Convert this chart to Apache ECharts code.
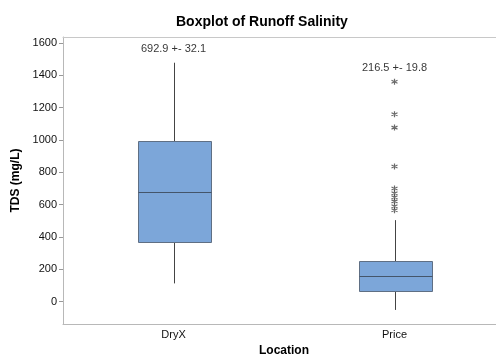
<!DOCTYPE html>
<html><head><meta charset="utf-8">
<script src="https://cdn.jsdelivr.net/npm/echarts@6/dist/echarts.min.js"></script>
<style>html,body{margin:0;padding:0;background:#fff}#c{width:496px;height:360px}</style>
</head><body><div id="c"></div>
<script>
const categories = ['DryX', 'Price'];
// [whiskerLow, Q1, median, Q3, whiskerHigh]
const boxStats = [
  [113, 366, 678, 991, 1477],
  [-51, 64, 160, 249, 504]
];
const outliersPrice = [1359, 1158, 1076, 835, 700, 670, 645, 620, 590, 565];
const meanLabels = ['692.9 +- 32.1', '216.5 +- 19.8'];
const yTicks = [0, 200, 400, 600, 800, 1000, 1200, 1400, 1600];

const outlierData = outliersPrice.map(v => [1, v]);
const labelData = categories.map((c, i) => {
  const maxOut = i === 1 ? Math.max(...outliersPrice) : boxStats[i][4];
  return { value: [i, Math.max(maxOut, boxStats[i][4])], label: { formatter: meanLabels[i] } };
});

const chart = echarts.init(document.getElementById('c'), null, { renderer: 'canvas' });
const font = 'Liberation Sans, Arial, sans-serif';
chart.setOption({
  animation: false,
  title: {
    text: 'Boxplot of Runoff Salinity', left: 171, top: 10,
    textStyle: { fontFamily: font, fontSize: 14, fontWeight: 'bold', color: '#000' }
  },
  grid: { left: 63, top: 37, width: 442, height: 287, show: false,
          outerBoundsMode: 'none', containLabel: false },
  xAxis: [{
    type: 'category', data: categories, boundaryGap: true,
    name: 'Location', nameLocation: 'middle', nameGap: 21,
    nameTextStyle: { fontFamily: font, fontSize: 12, fontWeight: 'bold', color: '#000' },
    axisLine: { onZero: false, lineStyle: { color: '#b8b8b8' } },
    axisTick: { alignWithLabel: true, length: 4, lineStyle: { color: '#999' } },
    axisLabel: { fontFamily: font, fontSize: 11, color: '#111', margin: 5 },
    splitLine: { show: false }
  }, {
    type: 'category', data: categories, position: 'top',
    axisLine: { onZero: false, lineStyle: { color: '#c8c8c8' } },
    axisTick: { show: false }, axisLabel: { show: false }, splitLine: { show: false }
  }],
  yAxis: {
    type: 'value', min: -138, max: 1636,
    name: 'TDS (mg/L)', nameLocation: 'middle', nameGap: 39,
    nameTextStyle: { fontFamily: font, fontSize: 12, fontWeight: 'bold', color: '#000' },
    axisLine: { show: true, lineStyle: { color: '#b8b8b8' } },
    axisTick: { show: true, length: 4, customValues: yTicks, lineStyle: { color: '#999' } },
    axisLabel: { fontFamily: font, fontSize: 11, color: '#111', margin: 6, customValues: yTicks,
                 formatter: v => String(v) },
    splitLine: { show: false }
  },
  series: [
    {
      type: 'custom',
      data: boxStats.map((s, i) => [i, ...s]),
      renderItem: function (params, api) {
        const i = api.value(0);
        const lo = api.coord([i, api.value(1)]);
        const q1 = api.coord([i, api.value(2)]);
        const med = api.coord([i, api.value(3)]);
        const q3 = api.coord([i, api.value(4)]);
        const hi = api.coord([i, api.value(5)]);
        const bw = api.size([1, 0])[0] * 0.33;
        const x = Math.round(lo[0]) + 0.5;
        const L = Math.round(x - bw / 2) + 0.5, R = Math.round(x + bw / 2) + 0.5;
        const wl = { stroke: '#444', lineWidth: 1 };
        return {
          type: 'group',
          children: [
            { type: 'line', shape: { x1: x, y1: hi[1], x2: x, y2: q3[1] }, style: wl },
            { type: 'line', shape: { x1: x, y1: q1[1], x2: x, y2: lo[1] }, style: wl },
            { type: 'rect', shape: { x: L, y: Math.round(q3[1]) + 0.5, width: R - L, height: Math.round(q1[1]) - Math.round(q3[1]) },
              style: { fill: '#7ca6d9', stroke: '#5f6f84', lineWidth: 1 } },
            { type: 'line', shape: { x1: L, y1: Math.round(med[1]) + 0.5, x2: R, y2: Math.round(med[1]) + 0.5 },
              style: { stroke: '#44556a', lineWidth: 1 } }
          ]
        };
      },
      encode: { x: 0, y: [1, 2, 3, 4, 5] },
      z: 2
    },
    {
      type: 'scatter',
      data: outlierData,
      symbol: 'path://M0,-5L0,5M-4.33,-2.5L4.33,2.5M-4.33,2.5L4.33,-2.5',
      symbolSize: 6,
      itemStyle: { color: 'rgba(0,0,0,0)', borderColor: '#444', borderWidth: 1.2 },
      z: 3
    },
    {
      type: 'scatter',
      data: labelData,
      symbolSize: 0,
      label: { show: true, position: 'top', distance: 8, fontFamily: font, fontSize: 11, color: '#000' },
      z: 4
    }
  ]
});
</script></body></html>
